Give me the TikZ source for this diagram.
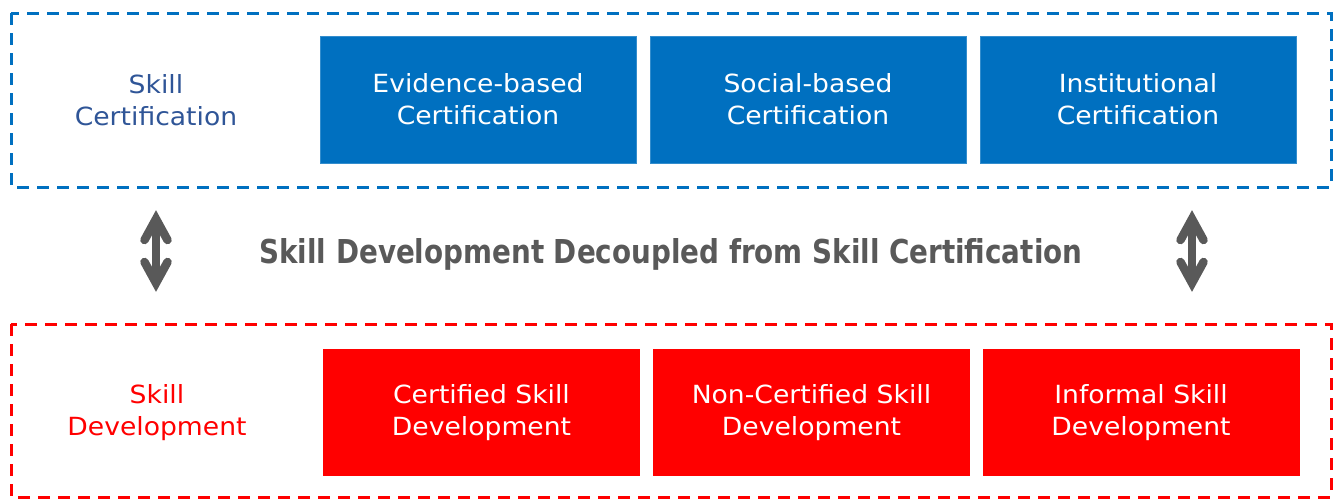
\documentclass[tikz,border=0pt]{standalone}
\usepackage{fontspec}
\setmainfont{DejaVu Sans}[FakeStretch=1.065]
\newfontfamily\titlefont{DejaVu Sans Condensed}[BoldFont={DejaVu Sans Condensed Bold}]
\usetikzlibrary{positioning}
\definecolor{cblue}{HTML}{0070C0}
\definecolor{cbluetxt}{HTML}{2F5597}
\definecolor{cred}{HTML}{FF0000}
\definecolor{cgrey}{HTML}{595959}
\tikzset{
  frame/.style={line width=3pt, dash pattern=on 12pt off 8pt},
  cbox/.style={rectangle, minimum width=316pt, minimum height=127pt, inner sep=0pt,
    text=white, align=center, font=\fontsize{25}{32}\selectfont},
  sidelabel/.style={align=center, font=\fontsize{25}{32}\selectfont},
  dblarrow/.style={line width=7.5pt, cgrey},
  arrowhead/.style={line width=8.5pt, cgrey, line cap=round, line join=miter}
}
\begin{document}
\begin{tikzpicture}[x=1pt,y=-1pt]
\useasboundingbox (0,0) rectangle (1335,499);
% frames
\draw[frame, cblue] (11,13) rectangle (1331,187);
\draw[frame, cred] (11,324) rectangle (1331,497);
% top row
\node[sidelabel, text=cbluetxt] (sc) at (156,100) {Skill\\Certification};
\node[cbox, fill=cblue, draw=cblue!80!white, line width=0.8pt] (ev) at (478,99.5) {Evidence-based\\Certification};
\node[cbox, fill=cblue, draw=cblue!80!white, line width=0.8pt] (so) at (808,99.5) {Social-based\\Certification};
\node[cbox, fill=cblue, draw=cblue!80!white, line width=0.8pt] (in) at (1138,99.5) {Institutional\\Certification};
% bottom row
\node[sidelabel, text=cred] (sd) at (157,413) {Skill\\Development};
\node[cbox, fill=cred, minimum width=317pt] (ce) at (481.5,412.5) {Certified Skill\\Development};
\node[cbox, fill=cred, minimum width=317pt] (nc) at (811.5,412.5) {Non-Certified Skill\\Development};
\node[cbox, fill=cred, minimum width=317pt] (inf) at (1141,412.5) {Informal Skill\\Development};
% title
\node[text=cgrey, inner sep=0pt, anchor=base] (title) at (671,263)
  {\resizebox{823pt}{25pt}{\titlefont\bfseries Skill Development Decoupled from Skill Certification}};
% arrows
\foreach \n/\x in {la/156, ra/1192}{
  \coordinate (\n t) at (\x,219);
  \coordinate (\n b) at (\x,283);
  \draw[dblarrow] (\n t) -- (\n b);
  \draw[arrowhead] ([xshift=-11.5pt,yshift=-21pt]\n t) -- (\n t) -- ([xshift=11.5pt,yshift=-21pt]\n t);
  \draw[arrowhead] ([xshift=-11.5pt,yshift=21pt]\n b) -- (\n b) -- ([xshift=11.5pt,yshift=21pt]\n b);
}
\end{tikzpicture}
\end{document}
